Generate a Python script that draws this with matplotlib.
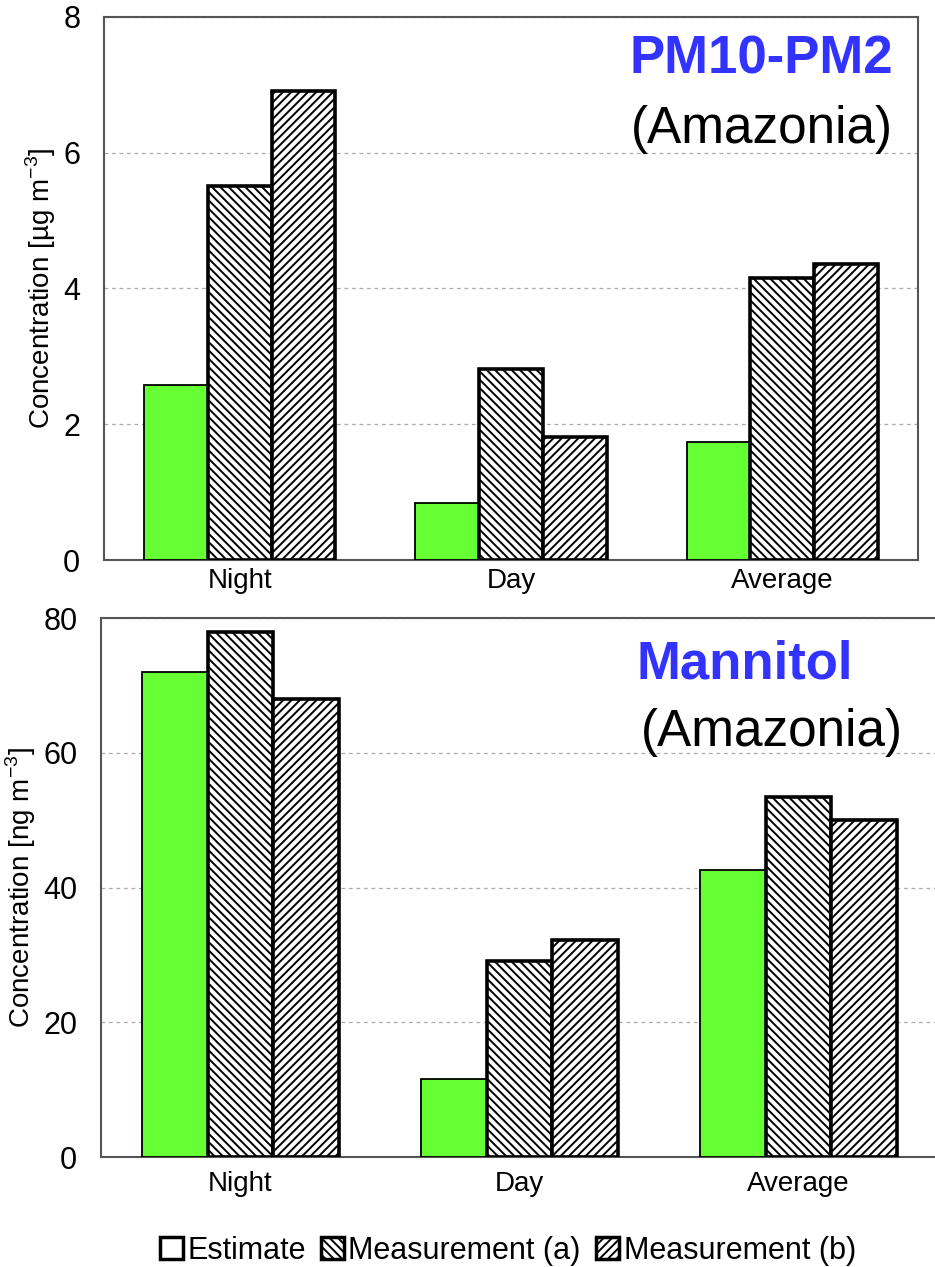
import numpy as np
import matplotlib
matplotlib.use("Agg")
import matplotlib.pyplot as plt
from matplotlib.patches import Patch

plt.rcParams['font.family'] = ['Liberation Sans', 'DejaVu Sans']
plt.rcParams['mathtext.fontset'] = 'custom'
plt.rcParams['mathtext.rm'] = 'Liberation Sans'
plt.rcParams['hatch.linewidth'] = 1.4

# Data
periods = ['Night', 'Day', 'Average']
series = ['Estimate', 'Measurement (a)', 'Measurement (b)']

pm_estimate = [2.58, 0.84, 1.74]
pm_meas_a = [5.51, 2.81, 4.15]
pm_meas_b = [6.91, 1.81, 4.36]

mannitol_estimate = [72.0, 11.6, 42.6]
mannitol_meas_a = [78.0, 29.1, 53.4]
mannitol_meas_b = [68.0, 32.2, 50.0]

pm_ticks = [0, 2, 4, 6, 8]
mannitol_ticks = [0, 20, 40, 60, 80]

green = '#66ff33'
blue = '#3333ff'
width = 0.235


def draw_panel(ax, est, meas_a, meas_b, yticks, ylabel, title, title_xy, sub_xy, xpad):
    x = np.arange(len(periods))
    ax.bar(x - width, est, width, color=green, edgecolor='black', linewidth=1.3, zorder=3)
    ax.bar(x, meas_a, width, color='white', edgecolor='black', hatch='\\\\\\\\',
           linewidth=2.6, zorder=3)
    ax.bar(x + width, meas_b, width, color='white', edgecolor='black', hatch='////',
           linewidth=2.6, zorder=3)

    ax.set_xlim(-0.5, 2.5)
    ax.set_ylim(yticks[0], yticks[-1])
    ax.set_yticks(yticks)
    ax.set_yticklabels([str(t) for t in yticks], fontsize=22)
    ax.set_xticks(x)
    ax.set_xticklabels(periods, fontsize=20)
    ax.tick_params(axis='y', length=0, pad=17)
    ax.tick_params(axis='x', length=0, pad=xpad)
    ax.grid(axis='y', color='#aaaaaa', linestyle=(0, (3, 3)), linewidth=0.9, zorder=0)
    for s in ax.spines.values():
        s.set_color('#555555')
        s.set_linewidth(1.5)
    ax.set_ylabel(ylabel, fontsize=20, labelpad=4)

    ax.text(title_xy[0], title_xy[1], title, transform=ax.transAxes, ha='center',
            va='center', fontsize=38, fontweight='bold', color=blue)
    ax.text(sub_xy[0], sub_xy[1], '(Amazonia)', transform=ax.transAxes, ha='center',
            va='center', fontsize=37, color='black')


fig = plt.figure(figsize=(9.35, 12.67), dpi=100)

ax1 = fig.add_axes([0.1112, 0.558, 0.8706, 0.4286])
draw_panel(ax1, pm_estimate, pm_meas_a, pm_meas_b, pm_ticks,
           r'Concentration [µg m$^{\mathregular{-3}}$]',
           'PM10-PM2', (0.808, 0.921), (0.808, 0.792), 6)

ax2 = fig.add_axes([0.108, 0.0868, 0.895, 0.4254])
draw_panel(ax2, mannitol_estimate, mannitol_meas_a, mannitol_meas_b, mannitol_ticks,
           r'Concentration [ng m$^{\mathregular{-3}}$]',
           'Mannitol', (0.769, 0.913), (0.802, 0.787), 10)
ax2.spines['right'].set_visible(False)

handles = [
    Patch(facecolor='white', edgecolor='black', linewidth=2.5),
    Patch(facecolor='white', edgecolor='black', linewidth=2.5, hatch='\\\\\\\\'),
    Patch(facecolor='white', edgecolor='black', linewidth=2.5, hatch='////'),
]
fig.legend(handles, series, loc='center', bbox_to_anchor=(0.543, 0.013), ncol=3,
           frameon=False, fontsize=22, handlelength=0.75, handleheight=0.75,
           handletextpad=0.15, columnspacing=0.5)

fig.savefig('out.png', dpi=100)
